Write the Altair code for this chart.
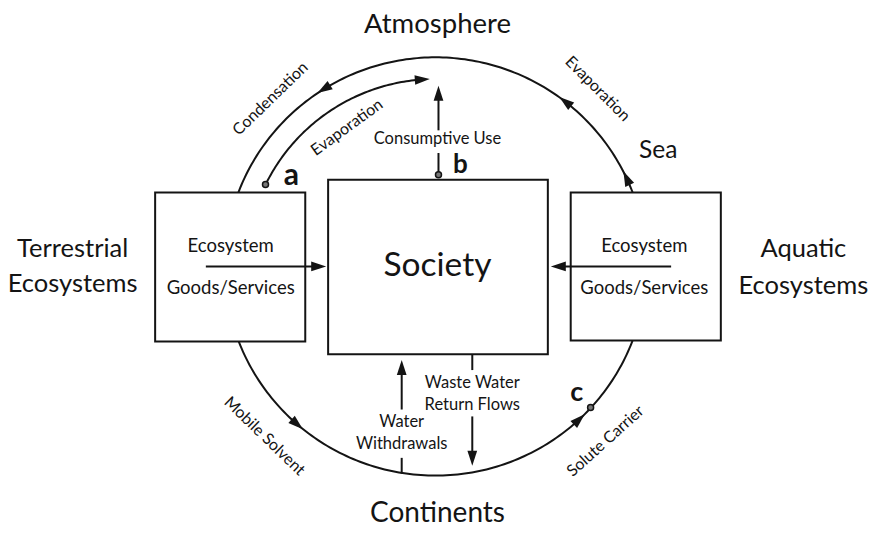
import altair as alt
import numpy as np
import pandas as pd

# ---------------- diagram data (page-pixel coordinates) ----------------
# water cycle circle
circle_cx, circle_cy, circle_r = 438, 270, 212
inner_r = 190
inner_arc_start, inner_arc_end = 154, 92          # degrees (math orientation)

# boxes
box_names = ["Terrestrial", "Society", "Aquatic"]
box_x0 = [156, 330, 574]
box_x1 = [307, 551, 725]
box_y0 = [195, 182, 195]
box_y1 = [346, 359, 345]

# straight flow segments
seg_names = ["cons_up", "cons_low", "eco_left", "eco_right",
             "withdraw_up", "withdraw_low", "waste_up", "waste_low"]
seg_x0 = [441, 441, 207, 675, 404, 404, 475, 475]
seg_y0 = [132, 155, 270, 270, 415, 464, 359, 422]
seg_x1 = [441, 441, 322, 560, 404, 404, 475, 475]
seg_y1 = [95, 177, 270, 270, 372, 480, 375, 466]

# straight arrow tips (x, y, heading clockwise from up)
tip_x = [441, 328, 554, 404, 475]
tip_y = [87, 270, 270, 365, 472]
tip_heading = [0, 90, 270, 0, 180]

# arrows sitting on arcs: (radius, math angle, clockwise?)
arc_arrow_r = [inner_r, circle_r, circle_r, circle_r, circle_r, circle_r]
arc_arrow_ang = [94, 122, 52, 25, 229, 313]
arc_arrow_cw = [True, False, False, False, False, False]

# small ring markers a, b, c
ring_x = [267, 441, 594]
ring_y = [187, 177, 413]

# letters
letter_text = ["a", "b", "c"]
letter_x = [293, 463, 580]
letter_y = [178, 167, 398]
letter_size = [30, 26, 27]

# labels
label_text = ["Atmosphere", "Continents", "Sea", "Terrestrial", "Ecosystems",
              "Aquatic", "Ecosystems", "Society",
              "Ecosystem", "Goods/Services", "Ecosystem", "Goods/Services",
              "Consumptive Use", "Water", "Withdrawals", "Waste Water", "Return Flows",
              "Condensation", "Evaporation", "Evaporation", "Mobile Solvent", "Solute Carrier"]
label_x = [440, 440, 662, 73, 73, 808, 808, 440,
           232, 232, 648, 648,
           440, 404, 404, 475, 475,
           272, 349, 601, 266, 609]
label_y = [25, 521, 153, 252, 288, 252, 290, 270,
           249, 292, 249, 292,
           141, 428, 450, 388, 410,
           100, 129, 90, 442, 447]
label_size = [27.5, 28, 24.5, 25.5, 25.5, 25.5, 25.5, 33.5,
              18.5, 18.5, 18.5, 18.5,
              16.5, 16.5, 16.5, 16.5, 16.5,
              16, 16, 16, 16, 16]
label_angle = [0, 0, 0, 0, 0, 0, 0, 0,
               0, 0, 0, 0,
               0, 0, 0, 0, 0,
               316, 324, 45, 44, 318]

# ---------------- build tables ----------------
def polar(r, a):
    t = np.deg2rad(a)
    return circle_cx + r * np.cos(t), circle_cy - r * np.sin(t)

rows = []
ang = np.arange(0, 361, 1.0)
for i, a in enumerate(ang):
    x, y = polar(circle_r, a)
    rows.append(dict(id="circle", o=i, x=x, y=y))
inner = np.linspace(inner_arc_start, inner_arc_end + 1.5, 80)
for i, a in enumerate(inner):
    x, y = polar(inner_r, a)
    rows.append(dict(id="inner", o=i, x=x, y=y))
arcs = pd.DataFrame(rows)

segs = []
for n, a0, b0, a1, b1 in zip(seg_names, seg_x0, seg_y0, seg_x1, seg_y1):
    segs.append(dict(id=n, o=0, x=a0, y=b0))
    segs.append(dict(id=n, o=1, x=a1, y=b1))
segs = pd.DataFrame(segs)

boxes = pd.DataFrame(dict(name=box_names, x0=box_x0, x1=box_x1, y0=box_y0, y1=box_y1))

heads = []
half = 7.5
for tx, ty, h in zip(tip_x, tip_y, tip_heading):
    t = np.deg2rad(h)
    heads.append(dict(x=tx - half * np.sin(t), y=ty + half * np.cos(t), h=h % 360))
for r, a, cw in zip(arc_arrow_r, arc_arrow_ang, arc_arrow_cw):
    x, y = polar(r, a)
    t = np.deg2rad(a)
    if cw:
        dx, dy = np.sin(t), np.cos(t)
    else:
        dx, dy = -np.sin(t), -np.cos(t)
    h = np.degrees(np.arctan2(dx, -dy)) % 360
    heads.append(dict(x=x, y=y, h=h))
heads = pd.DataFrame(heads)

rings = pd.DataFrame(dict(x=ring_x, y=ring_y))
letters = pd.DataFrame(dict(t=letter_text, x=letter_x, y=letter_y, s=letter_size))
labels = pd.DataFrame(dict(t=label_text, x=label_x, y=label_y, s=label_size, a=label_angle))

# ---------------- chart ----------------
W, H = 860, 520
xs = alt.Scale(domain=[8, 8 + W], nice=False, zero=False)
ys = alt.Scale(domain=[8, 8 + H], nice=False, zero=False, reverse=True)
X = lambda f="x": alt.X(f + ":Q", scale=xs, axis=None)
Y = lambda f="y": alt.Y(f + ":Q", scale=ys, axis=None)
INK = "#141414"
FONT = "Lato"

circle_layer = alt.Chart(arcs).mark_line(color=INK, strokeWidth=2).encode(
    x=X(), y=Y(), detail="id:N", order="o:Q")

box_layer = alt.Chart(boxes).mark_rect(fill="white", stroke=INK, strokeWidth=2).encode(
    x=X("x0"), x2="x1:Q", y=Y("y0"), y2="y1:Q")

seg_layer = alt.Chart(segs).mark_line(color=INK, strokeWidth=2).encode(
    x=X(), y=Y(), detail="id:N", order="o:Q")

head_layer = alt.Chart(heads).mark_point(
    shape="M0,-1L0.65,1L-0.65,1Z", filled=True, size=225, color=INK, opacity=1
).encode(x=X(), y=Y(), angle=alt.Angle("h:Q", scale=None))

ring_layer = alt.Chart(rings).mark_point(
    shape="circle", filled=True, fill="#777", stroke=INK, strokeWidth=1.5, size=36, opacity=1
).encode(x=X(), y=Y())

label_layer = alt.Chart(labels).mark_text(
    font=FONT, color=INK, align="center", baseline="middle"
).encode(x=X(), y=Y(), text="t:N", size=alt.Size("s:Q", scale=None),
         angle=alt.Angle("a:Q", scale=None))

letter_layer = alt.Chart(letters).mark_text(
    font=FONT, fontWeight="bold", color=INK, align="center", baseline="middle"
).encode(x=X(), y=Y(), text="t:N", size=alt.Size("s:Q", scale=None))

chart = alt.layer(
    circle_layer, box_layer, seg_layer, head_layer, ring_layer, label_layer, letter_layer
).properties(
    width=W, height=H, padding=0, background="white",
    autosize=alt.AutoSizeParams(type="fit", contains="padding"),
).configure_view(strokeWidth=0)

chart.save("out.html", embed_options={"renderer": "svg", "actions": False})
